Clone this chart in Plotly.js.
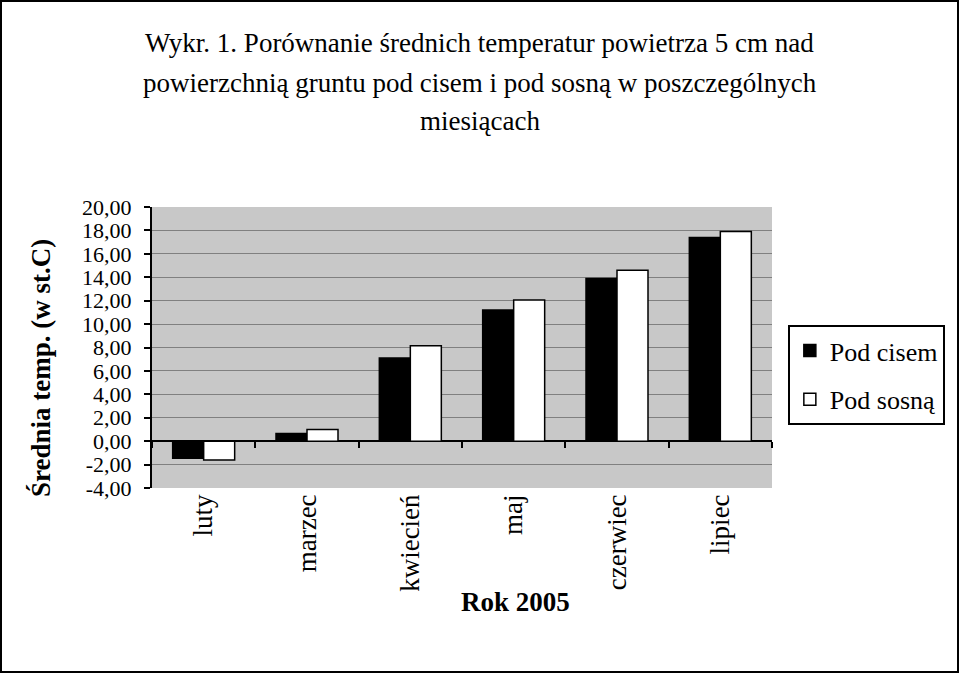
<!DOCTYPE html>
<html>
<head>
<meta charset="utf-8">
<script src="https://cdn.plot.ly/plotly-3.0.1.min.js"></script>
<style>
  body { margin: 0; background: #fff; }
  #frame { width: 959px; height: 673px; box-sizing: border-box; border: 2px solid #000; overflow: hidden; }
  #chart { width: 955px; height: 669px; }
</style>
</head>
<body>
<div id="frame"><div id="chart"></div></div>
<script>
// miesiące 2005
const months = ['luty', 'marzec', 'kwiecień', 'maj', 'czerwiec', 'lipiec']
// średnia temp. 5 cm nad gruntem (st. C)
const podCisem = [-1.45, 0.65, 7.1, 11.2, 13.9, 17.4]
const podSosna = [-1.6, 1.0, 8.15, 12.05, 14.6, 17.9]
const yTicks = [-4, -2, 0, 2, 4, 6, 8, 10, 12, 14, 16, 18, 20]
const titleLines = [
  'Wykr. 1. Porównanie średnich temperatur powietrza 5 cm nad',
  'powierzchnią gruntu pod cisem i pod sosną w poszczególnych',
  'miesiącach'
]

const serif = '"Liberation Serif", "Times New Roman", serif'
const W = 955, H = 669
const L = 150, R = 776, T = 205, B = 486   // plot box in px

const traces = [
  {
    type: 'bar', name: 'Pod cisem', x: months, y: podCisem,
    marker: { color: '#000', line: { color: '#000', width: 1.5 } },
    legendgroup: 'a', hoverinfo: 'x+y'
  },
  {
    type: 'bar', name: 'Pod sosną', x: months, y: podSosna,
    marker: { color: '#fff', line: { color: '#000', width: 1.5 } },
    legendgroup: 'b', hoverinfo: 'x+y'
  },
  // carries the category ticks drawn along the zero line
  {
    type: 'scatter', x: months, y: months.map(() => null), xaxis: 'x2',
    showlegend: false, hoverinfo: 'skip', mode: 'markers'
  }
]

const yMin = yTicks[0], yMax = yTicks[yTicks.length - 1]

const annotations = titleLines.map((t, i) => ({
  text: t, xref: 'paper', yref: 'paper',
  x: (481 - L) / (R - L), y: (B - [41, 81, 119][i]) / (B - T),
  xanchor: 'center', yanchor: 'middle', showarrow: false,
  font: { family: serif, size: 27, color: '#000' }
}))
annotations.push({
  text: '<b>Rok 2005</b>', xref: 'paper', yref: 'paper',
  x: (517 - L) / (R - L), y: (B - 600) / (B - T),
  xanchor: 'center', yanchor: 'middle', showarrow: false,
  font: { family: serif, size: 27, color: '#000' }
})
annotations.push({
  text: '<b>Średnia temp. (w st.C)</b>', xref: 'paper', yref: 'paper',
  x: (38 - L) / (R - L), y: (B - 366) / (B - T), textangle: -90,
  xanchor: 'center', yanchor: 'middle', showarrow: false,
  font: { family: serif, size: 27, color: '#000' }
})

const layout = {
  width: W, height: H,
  margin: { l: L, r: W - R, t: T, b: H - B },
  paper_bgcolor: '#fff', plot_bgcolor: '#c8c8c8',
  showlegend: true,
  barmode: 'group', bargap: 0.4, bargroupgap: 0,
  font: { family: serif, color: '#000' },
  xaxis: {
    type: 'category', categoryarray: months, range: [-0.5, 5.5],
    tickangle: -90, ticks: '', showline: false, showgrid: false,
    tickfont: { family: serif, size: 27, color: '#000' }, zeroline: false
  },
  xaxis2: {
    type: 'category', categoryarray: months, range: [-0.5, 5.5],
    overlaying: 'x', anchor: 'free', position: (0 - yMin) / (yMax - yMin),
    side: 'bottom', ticks: 'outside', tickson: 'boundaries', ticklen: 6,
    tickwidth: 2, tickcolor: '#000', showticklabels: false,
    showline: false, showgrid: false, zeroline: false
  },
  yaxis: {
    range: [yMin, yMax], tickvals: yTicks,
    ticktext: yTicks.map(v => v.toFixed(2).replace('.', ',')),
    ticks: 'outside', ticklen: 6, tickwidth: 2, tickcolor: '#000',
    ticklabelstandoff: 8,
    showline: true, linecolor: '#000', linewidth: 2,
    showgrid: true, gridcolor: '#808080', gridwidth: 1,
    zeroline: true, zerolinecolor: '#000', zerolinewidth: 2,
    tickfont: { family: serif, size: 22, color: '#000' }
  },
  legend: {
    x: (792 - L) / (R - L), y: (B - 373) / (B - T),
    xanchor: 'left', yanchor: 'middle',
    bgcolor: '#fff', bordercolor: '#000', borderwidth: 2,
    traceorder: 'grouped', tracegroupgap: 12, itemwidth: 30,
    font: { family: serif, size: 26, color: '#000' }
  },
  annotations: annotations
}

Plotly.newPlot('chart', traces, layout, { displayModeBar: false, staticPlot: true })
</script>
</body>
</html>
